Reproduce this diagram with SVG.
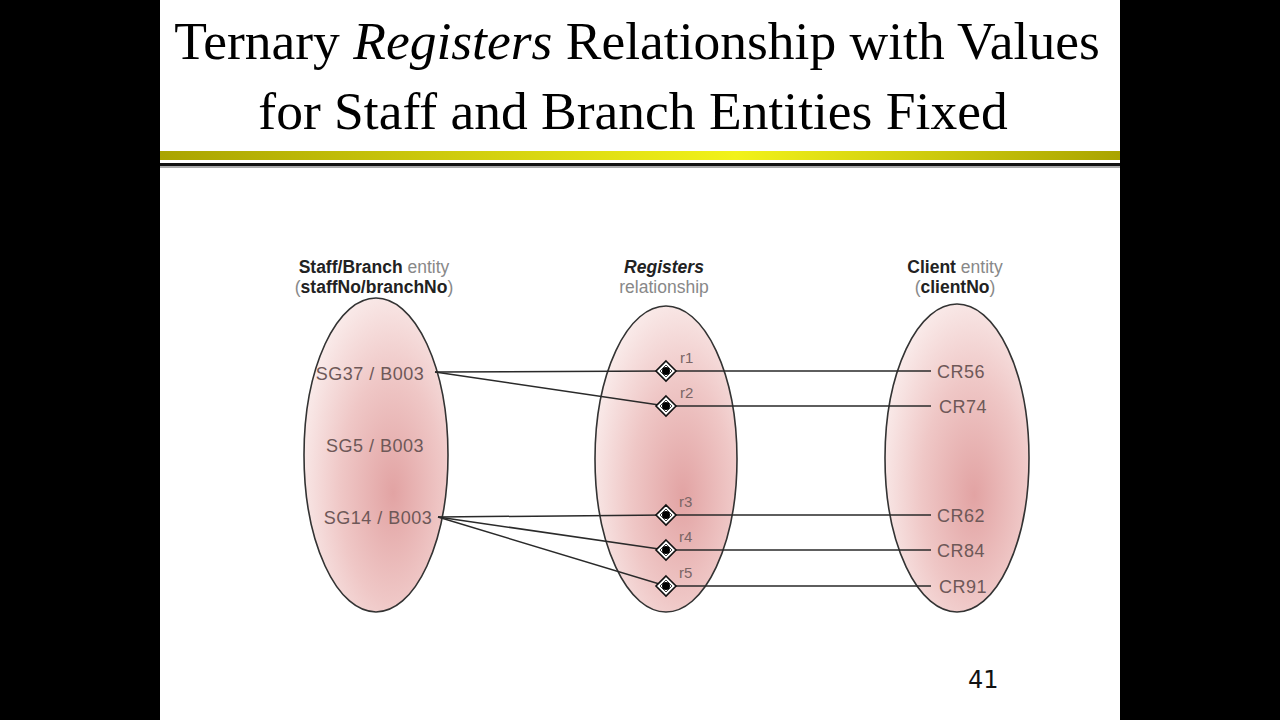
<svg xmlns="http://www.w3.org/2000/svg" width="1280" height="720" viewBox="0 0 1280 720">
<defs>
<radialGradient id="pink" cx="0.6" cy="0.6" r="0.65" fx="0.62" fy="0.62">
<stop offset="0" stop-color="#e2a3a3"/>
<stop offset="0.55" stop-color="#efc7c6"/>
<stop offset="1" stop-color="#faeceb"/>
</radialGradient>
<linearGradient id="bar" x1="0" y1="0" x2="1" y2="0">
<stop offset="0" stop-color="#aaa400"/>
<stop offset="0.6" stop-color="#f2f21a"/>
<stop offset="1" stop-color="#aaa400"/>
</linearGradient>
<g id="dia">
<path d="M0,-10 L10,0 L0,10 L-10,0 Z" fill="#fff" stroke="#111" stroke-width="1.6"/>
<path d="M0,-6 L6,0 L0,6 L-6,0 Z" fill="none" stroke="#111" stroke-width="0.8"/>
<circle r="4" fill="#000"/>
</g>
</defs>
<style>
.ell{fill:url(#pink);stroke:#333;stroke-width:1.6}
.lbl{font-family:"Liberation Sans",Arial,sans-serif;font-size:18px;letter-spacing:0.5px;fill:#6e5858}
.rl{font-family:"Liberation Sans",Arial,sans-serif;font-size:15px;fill:#7a6565}
.hd{font-family:"Liberation Sans",Arial,sans-serif;font-size:17.5px;fill:#888;text-anchor:middle}
.b{font-weight:bold;fill:#222}
.conn{stroke:#2a2a2a;stroke-width:1.5;fill:none}
.title{font-family:"Liberation Serif","Times New Roman",serif;font-size:53.5px;fill:#000;text-anchor:middle}
</style>
<rect x="0" y="0" width="1280" height="720" fill="#000"/>
<rect x="160" y="0" width="960" height="720" fill="#fff"/>
<g id="title">
<text class="title" x="637" y="59">Ternary <tspan font-style="italic">Registers</tspan> Relationship with Values</text>
<text class="title" x="633" y="129">for Staff and Branch Entities Fixed</text>
</g>
<g id="bars">
<rect x="160" y="151" width="960" height="9" fill="url(#bar)"/>
<rect x="160" y="163" width="960" height="3" fill="#111"/>
<rect x="160" y="166" width="960" height="2" fill="#aaa"/>
</g>
<g id="headers">
<text class="hd" x="374" y="273"><tspan class="b">Staff/Branch</tspan> entity</text>
<text class="hd" x="374" y="293">(<tspan class="b">staffNo/branchNo</tspan>)</text>
<text class="hd" x="664" y="273"><tspan class="b" font-style="italic">Registers</tspan></text>
<text class="hd" x="664" y="293">relationship</text>
<text class="hd" x="955" y="273"><tspan class="b">Client</tspan> entity</text>
<text class="hd" x="955" y="293">(<tspan class="b">clientNo</tspan>)</text>
</g>
<g id="staff-branch">
<ellipse class="ell" cx="376" cy="455" rx="72" ry="157"/>
<text class="lbl" x="370" y="380" text-anchor="middle">SG37 / B003</text>
<text class="lbl" x="375" y="452" text-anchor="middle">SG5 / B003</text>
<text class="lbl" x="378" y="524" text-anchor="middle">SG14 / B003</text>
</g>
<g id="registers">
<ellipse class="ell" cx="666" cy="459" rx="71" ry="153"/>
</g>
<g id="client">
<ellipse class="ell" cx="957" cy="458" rx="72" ry="154"/>
<text class="lbl" x="937" y="378">CR56</text>
<text class="lbl" x="939" y="413">CR74</text>
<text class="lbl" x="937" y="522">CR62</text>
<text class="lbl" x="937" y="557">CR84</text>
<text class="lbl" x="939" y="593">CR91</text>
</g>
<g id="connectors">
<path class="conn" d="M435,372 L666,371 L931,371"/>
<path class="conn" d="M435,372 L666,406 L931,406"/>
<path class="conn" d="M438,517 L666,515 L931,515"/>
<path class="conn" d="M438,517 L666,550 L931,550"/>
<path class="conn" d="M438,517 L666,586 L931,586"/>
</g>
<g id="r1"><use href="#dia" x="666" y="371"/><text class="rl" x="680" y="363">r1</text></g>
<g id="r2"><use href="#dia" x="666" y="406"/><text class="rl" x="680" y="398">r2</text></g>
<g id="r3"><use href="#dia" x="666" y="515"/><text class="rl" x="679" y="507">r3</text></g>
<g id="r4"><use href="#dia" x="666" y="550"/><text class="rl" x="679" y="542">r4</text></g>
<g id="r5"><use href="#dia" x="666" y="586"/><text class="rl" x="679" y="578">r5</text></g>
<g id="page">
<text x="968" y="688" font-family="'DejaVu Sans',sans-serif" font-size="24" fill="#111">41</text>
</g>
</svg>
